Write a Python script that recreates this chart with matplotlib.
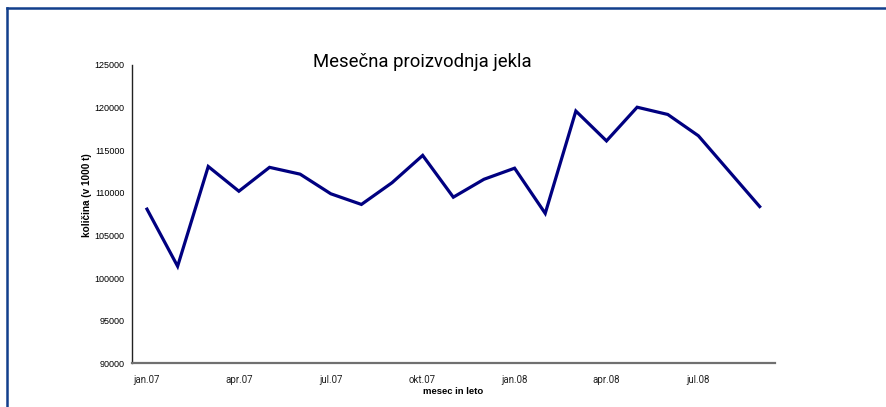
import matplotlib.pyplot as plt
from matplotlib.lines import Line2D
import numpy as np

# monthly steel production (in 1000 t), jan.07 - sep.08
months = ["jan.07", "feb.07", "mar.07", "apr.07", "maj.07", "jun.07", "jul.07",
          "avg.07", "sep.07", "okt.07", "nov.07", "dec.07", "jan.08", "feb.08",
          "mar.08", "apr.08", "maj.08", "jun.08", "jul.08", "avg.08", "sep.08"]
production = [108100, 101400, 113100, 110200, 113000, 112200, 109900,
              108650, 111200, 114400, 109500, 111600, 112900, 107600,
              119600, 116100, 120050, 119200, 116700, 112550, 108400]
tick_labels = ["jan.07", "apr.07", "jul.07", "okt.07", "jan.08", "apr.08", "jul.08"]
y_ticks = [90000, 95000, 100000, 105000, 110000, 115000, 120000, 125000]

plt.rcParams['font.family'] = ["Liberation Sans", "DejaVu Sans"]
narrow = ["Roboto", "Liberation Sans", "DejaVu Sans"]

fig = plt.figure(figsize=(8.86, 4.07), dpi=100)
ax = fig.add_axes([0.1486, 0.1069, 0.7261, 0.7334])

x = np.arange(len(production))
ax.plot(x, production, color="#000080", lw=2.3, solid_joinstyle="miter")

ax.set_xlim(-0.5, len(production) - 0.5)
ax.set_ylim(90000, 125000)
ax.set_yticks(y_ticks)
ax.set_yticklabels([str(v) for v in y_ticks], fontsize=6.5)
ax.set_xticks([months.index(m) for m in tick_labels])
ax.set_xticklabels(tick_labels, fontsize=7, family=narrow, color="#222222")
ax.tick_params(axis="both", length=0)
ax.tick_params(axis="y", pad=5)
ax.tick_params(axis="x", pad=8)

for s in ["top", "right"]:
    ax.spines[s].set_visible(False)
ax.spines["left"].set_color("#222222")
ax.spines["left"].set_linewidth(1.0)
ax.spines["bottom"].set_color("#707070")
ax.spines["bottom"].set_linewidth(1.6)

fig.text(453 / 886, 1 - 391 / 407, "mesec in leto", fontsize=6.8,
         fontweight="bold", ha="center", va="center")
fig.text(87 / 886, 1 - 195 / 407, "količina (v 1000 t)", fontsize=7.2,
         fontweight="bold", rotation=90, ha="center", va="center")

fig.text(422 / 886, 1 - 62 / 407, "Mesečna proizvodnja jekla", fontsize=13.3,
         family=narrow, ha="center", va="center")

# blue frame around the chart area
frame = "#123f8c"
fig.add_artist(Line2D([6.5 / 886, 1.0], [1 - 7.5 / 407, 1 - 7.5 / 407],
                      transform=fig.transFigure, color=frame, lw=1.8))
fig.add_artist(Line2D([6.5 / 886, 6.5 / 886], [0.0, 1 - 7.5 / 407],
                      transform=fig.transFigure, color=frame, lw=1.8))

fig.savefig("out.png", dpi=100)
